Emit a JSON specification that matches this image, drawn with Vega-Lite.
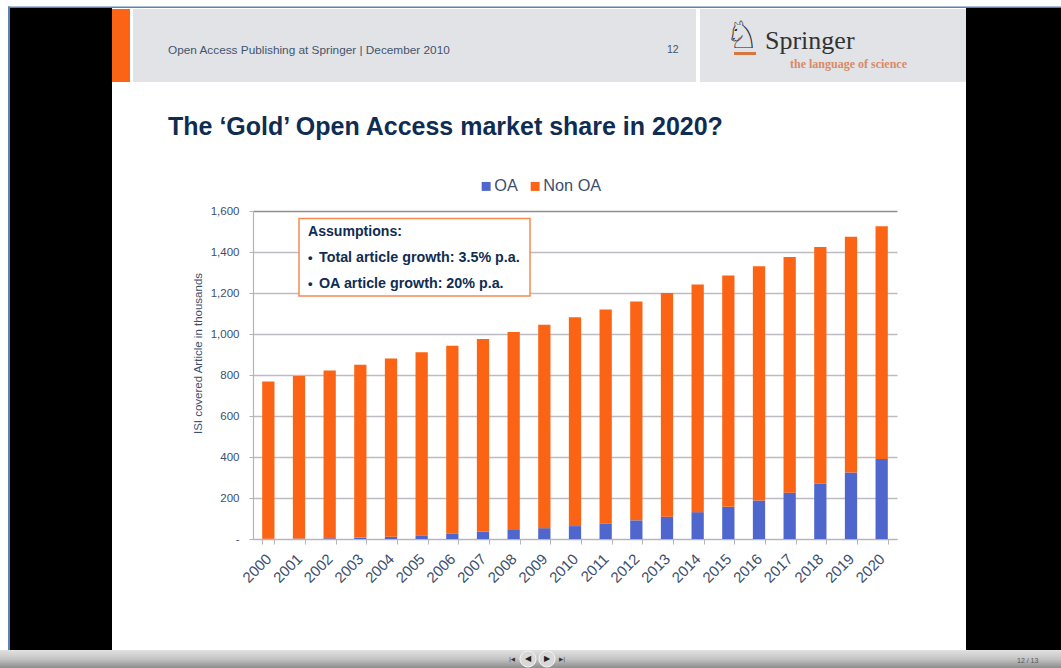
{"$schema":"https://vega.github.io/schema/vega-lite/v6.json","width":644,"height":328,"autosize":"none","padding":{"left":253,"top":211,"right":164,"bottom":129},"background":"#ffffff","config":{"view":{"stroke":null},"font":"Liberation Sans"},
"layer":[
{"data":{"values":[{"part":"left panel"}]},"mark":{"type":"rect","color":"#000000"},"encoding":{"x":{"value":-243},"x2":{"value":-141},"y":{"value":-203},"y2":{"value":439}}},
{"data":{"values":[{"part":"right panel"}]},"mark":{"type":"rect","color":"#000000"},"encoding":{"x":{"value":713},"x2":{"value":808},"y":{"value":-203},"y2":{"value":439}}},
{"data":{"values":[{"part":"top line"}]},"mark":{"type":"rect","color":"#5a82b4"},"encoding":{"x":{"value":-245},"x2":{"value":808},"y":{"value":-204.5},"y2":{"value":-203}}},
{"data":{"values":[{"part":"left line"}]},"mark":{"type":"rect","color":"#5a82b4"},"encoding":{"x":{"value":-245},"x2":{"value":-243},"y":{"value":-204.5},"y2":{"value":439}}},
{"data":{"values":[{"part":"toolbar"}]},"mark":{"type":"rect","color":{"gradient":"linear","x1":0,"y1":0,"x2":0,"y2":1,"stops":[{"offset":0,"color":"#e2e2e2"},{"offset":0.5,"color":"#c4c4c4"},{"offset":1,"color":"#8c8c8c"}]}},"encoding":{"x":{"value":-253},"x2":{"value":808},"y":{"value":439},"y2":{"value":457}}},
{"data":{"values":[{"part":"orange tab"}]},"mark":{"type":"rect","color":"#fa6414"},"encoding":{"x":{"value":-141},"x2":{"value":-123},"y":{"value":-202},"y2":{"value":-129}}},
{"data":{"values":[{"part":"header"}]},"mark":{"type":"rect","color":"#e1e3e6"},"encoding":{"x":{"value":-120},"x2":{"value":443},"y":{"value":-202},"y2":{"value":-129}}},
{"data":{"values":[{"part":"logo header"}]},"mark":{"type":"rect","color":"#e1e3e6"},"encoding":{"x":{"value":447},"x2":{"value":713},"y":{"value":-202},"y2":{"value":-129}}},
{"data":{"values":[{"part":"logo underline"}]},"mark":{"type":"rect","color":"#d9783c"},"encoding":{"x":{"value":481},"x2":{"value":503},"y":{"value":-159},"y2":{"value":-156}}},
{"data":{"name":"articles","values":[
{"year":"2000","type":"OA","value":1},{"year":"2000","type":"Non OA","value":767},
{"year":"2001","type":"OA","value":2},{"year":"2001","type":"Non OA","value":793},
{"year":"2002","type":"OA","value":4},{"year":"2002","type":"Non OA","value":818},
{"year":"2003","type":"OA","value":7},{"year":"2003","type":"Non OA","value":843},
{"year":"2004","type":"OA","value":11},{"year":"2004","type":"Non OA","value":869},
{"year":"2005","type":"OA","value":18},{"year":"2005","type":"Non OA","value":893},
{"year":"2006","type":"OA","value":26},{"year":"2006","type":"Non OA","value":917},
{"year":"2007","type":"OA","value":35},{"year":"2007","type":"Non OA","value":941},
{"year":"2008","type":"OA","value":44},{"year":"2008","type":"Non OA","value":966},
{"year":"2009","type":"OA","value":53},{"year":"2009","type":"Non OA","value":992},
{"year":"2010","type":"OA","value":63},{"year":"2010","type":"Non OA","value":1019},
{"year":"2011","type":"OA","value":76},{"year":"2011","type":"Non OA","value":1044},
{"year":"2012","type":"OA","value":91},{"year":"2012","type":"Non OA","value":1068},
{"year":"2013","type":"OA","value":109},{"year":"2013","type":"Non OA","value":1091},
{"year":"2014","type":"OA","value":131},{"year":"2014","type":"Non OA","value":1111},
{"year":"2015","type":"OA","value":157},{"year":"2015","type":"Non OA","value":1128},
{"year":"2016","type":"OA","value":188},{"year":"2016","type":"Non OA","value":1142},
{"year":"2017","type":"OA","value":226},{"year":"2017","type":"Non OA","value":1150},
{"year":"2018","type":"OA","value":271},{"year":"2018","type":"Non OA","value":1153},
{"year":"2019","type":"OA","value":325},{"year":"2019","type":"Non OA","value":1149},
{"year":"2020","type":"OA","value":390},{"year":"2020","type":"Non OA","value":1136}
]},
"mark":{"type":"bar"},
"encoding":{
"x":{"field":"year","type":"ordinal","scale":{"paddingInner":0.6,"paddingOuter":0.3},"axis":{"title":null,"tickBand":"extent","labelAngle":-45,"labelAlign":"right","labelBaseline":"middle","labelFont":"Liberation Sans","labelFontSize":15,"labelColor":"#3c4f6e","labelPadding":12,"labelOverlap":false,"tickColor":"#b4b4bc","tickSize":5,"domainColor":"#b4b4bc","domainWidth":1.2,"grid":false}},
"y":{"field":"value","type":"quantitative","stack":"zero","scale":{"domain":[0,1600],"nice":false},"axis":{"title":"ISI covered Article in thousands","titleFont":"Liberation Sans","titleFontSize":11.5,"titleFontWeight":"normal","titleColor":"#3c4f6e","titleX":-50,"titleY":142,"values":[0,200,400,600,800,1000,1200,1400,1600],"labelExpr":"datum.value==0?'-':format(datum.value,',.0f')","format":",.0f","labelFont":"Liberation Sans","labelFontSize":11.5,"labelColor":"#3c4f6e","labelPadding":10,"grid":true,"gridColor":{"condition":{"test":"datum.value===1600","value":"#8e8e8e"},"value":"#bcbcc4"},"gridWidth":1.4,"tickColor":"#b4b4bc","tickSize":4,"domainColor":"#b4b4bc","domainWidth":1.2}},
"color":{"field":"type","type":"nominal","scale":{"domain":["OA","Non OA"],"range":["#4f66cc","#fa6414"]},"legend":{"title":null,"orient":"none","legendX":225,"legendY":-33,"direction":"horizontal","columns":2,"symbolType":"square","symbolSize":80,"symbolStrokeWidth":0,"labelFont":"Liberation Sans","labelFontSize":16.3,"labelColor":"#3c4f6e","labelOffset":0,"columnPadding":9}},
"order":{"field":"type","sort":"descending"}}},
{"data":{"values":[{"part":"assumptions box"}]},"mark":{"type":"rect","fill":"#ffffff","stroke":"#f58a50","strokeWidth":1.5},"encoding":{"x":{"value":46},"x2":{"value":277},"y":{"value":7.5},"y2":{"value":85}}},
{"data":{"values":[{"label":"The ‘Gold’ Open Access market share in 2020?"}]},"mark":{"type":"text","align":"left","baseline":"middle","font":"Liberation Sans","fontWeight":"bold","fontSize":25,"color":"#0f2d52"},"encoding":{"text":{"field":"label"},"x":{"value":-85},"y":{"value":-84}}},
{"data":{"values":[{"label":"Open Access Publishing at Springer | December 2010"}]},"mark":{"type":"text","align":"left","baseline":"middle","font":"Liberation Sans","fontSize":11.8,"color":"#43546e"},"encoding":{"text":{"field":"label"},"x":{"value":-85},"y":{"value":-161}}},
{"data":{"values":[{"label":"12"}]},"mark":{"type":"text","align":"left","baseline":"middle","font":"Liberation Sans","fontSize":10.5,"color":"#43546e"},"encoding":{"text":{"field":"label"},"x":{"value":414},"y":{"value":-161}}},
{"data":{"values":[{"label":"♘"}]},"mark":{"type":"text","align":"center","baseline":"middle","font":"DejaVu Sans","fontSize":38,"color":"#222222"},"encoding":{"text":{"field":"label"},"x":{"value":489},"y":{"value":-174}}},
{"data":{"values":[{"label":"Springer"}]},"mark":{"type":"text","align":"left","baseline":"middle","font":"Liberation Serif","fontSize":26,"color":"#333333"},"encoding":{"text":{"field":"label"},"x":{"value":512},"y":{"value":-170}}},
{"data":{"values":[{"label":"the language of science"}]},"mark":{"type":"text","align":"left","baseline":"middle","font":"Liberation Serif","fontWeight":"bold","fontSize":12,"color":"#d98a66"},"encoding":{"text":{"field":"label"},"x":{"value":537},"y":{"value":-147}}},
{"data":{"values":[{"label":"Assumptions:"}]},"mark":{"type":"text","align":"left","baseline":"middle","font":"Liberation Sans","fontWeight":"bold","fontSize":14.1,"color":"#0f2d52"},"encoding":{"text":{"field":"label"},"x":{"value":55},"y":{"value":21}}},
{"data":{"values":[{"label":"•"}]},"mark":{"type":"text","align":"left","baseline":"middle","font":"Liberation Sans","fontWeight":"bold","fontSize":13,"color":"#0f2d52"},"encoding":{"text":{"field":"label"},"x":{"value":55},"y":{"value":47}}},
{"data":{"values":[{"label":"•"}]},"mark":{"type":"text","align":"left","baseline":"middle","font":"Liberation Sans","fontWeight":"bold","fontSize":13,"color":"#0f2d52"},"encoding":{"text":{"field":"label"},"x":{"value":55},"y":{"value":73}}},
{"data":{"values":[{"label":"Total article growth: 3.5% p.a."}]},"mark":{"type":"text","align":"left","baseline":"middle","font":"Liberation Sans","fontWeight":"bold","fontSize":14.3,"color":"#0f2d52"},"encoding":{"text":{"field":"label"},"x":{"value":66},"y":{"value":47}}},
{"data":{"values":[{"label":"OA article growth: 20% p.a."}]},"mark":{"type":"text","align":"left","baseline":"middle","font":"Liberation Sans","fontWeight":"bold","fontSize":14.3,"color":"#0f2d52"},"encoding":{"text":{"field":"label"},"x":{"value":66},"y":{"value":73}}},
{"data":{"values":[{"part":"prev button"}]},"mark":{"type":"point","shape":"circle","size":260,"fill":"#d8d8d8","stroke":"#f4f4f4","strokeWidth":1,"opacity":1},"encoding":{"x":{"value":275},"y":{"value":448}}},
{"data":{"values":[{"part":"next button"}]},"mark":{"type":"point","shape":"circle","size":260,"fill":"#d8d8d8","stroke":"#f4f4f4","strokeWidth":1,"opacity":1},"encoding":{"x":{"value":294},"y":{"value":448}}},
{"data":{"values":[{"label":"◀"}]},"mark":{"type":"text","align":"center","baseline":"middle","font":"DejaVu Sans","fontSize":8,"color":"#222222"},"encoding":{"text":{"field":"label"},"x":{"value":275},"y":{"value":448}}},
{"data":{"values":[{"label":"▶"}]},"mark":{"type":"text","align":"center","baseline":"middle","font":"DejaVu Sans","fontSize":8,"color":"#222222"},"encoding":{"text":{"field":"label"},"x":{"value":294},"y":{"value":448}}},
{"data":{"values":[{"label":"|◀"}]},"mark":{"type":"text","align":"center","baseline":"middle","font":"DejaVu Sans","fontSize":5.5,"color":"#333333"},"encoding":{"text":{"field":"label"},"x":{"value":259},"y":{"value":448}}},
{"data":{"values":[{"label":"▶|"}]},"mark":{"type":"text","align":"center","baseline":"middle","font":"DejaVu Sans","fontSize":5.5,"color":"#333333"},"encoding":{"text":{"field":"label"},"x":{"value":309},"y":{"value":448}}},
{"data":{"values":[{"label":"12  / 13"}]},"mark":{"type":"text","align":"left","baseline":"middle","font":"Liberation Sans","fontSize":7,"color":"#555555"},"encoding":{"text":{"field":"label"},"x":{"value":764},"y":{"value":450}}}
]}
